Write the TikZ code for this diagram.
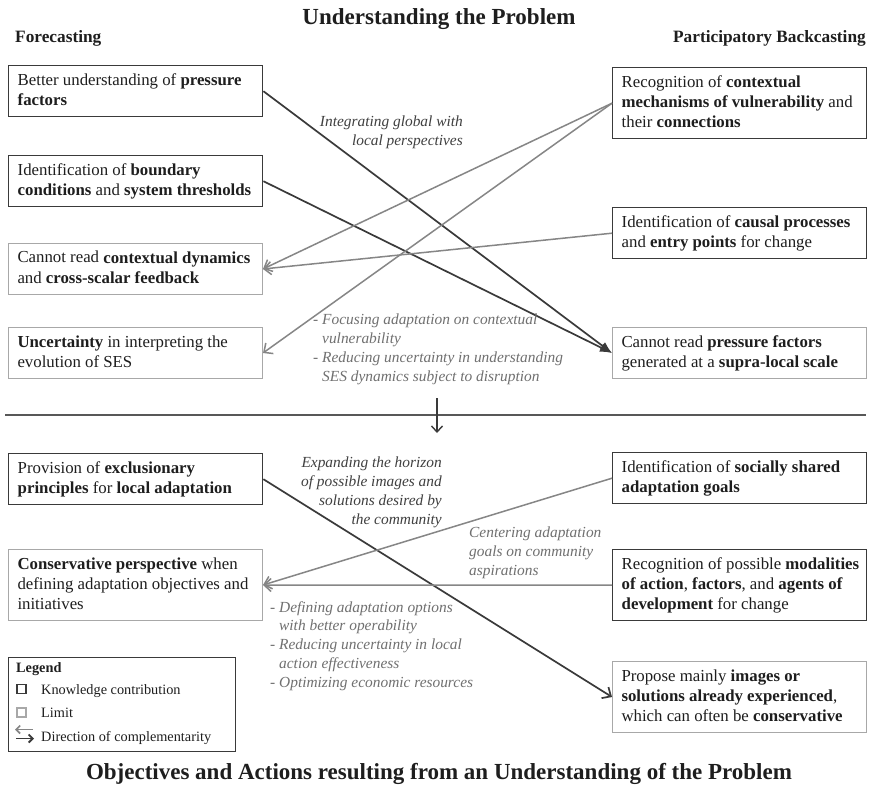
\documentclass[tikz,border=0pt]{standalone}
\usepackage{fontspec}
\setmainfont{Liberation Serif}
\usetikzlibrary{arrows.meta}
\definecolor{darkline}{HTML}{3A3A3A}
\definecolor{lightline}{HTML}{A8A8A8}
\definecolor{txt}{HTML}{1E1E1E}
\definecolor{lbldark}{HTML}{404040}
\definecolor{lbllight}{HTML}{707070}
\definecolor{grayarrow}{HTML}{868686}
\newcommand{\bx}[1]{\makebox[236pt][l]{\begin{tabular}{@{}l@{}}#1\end{tabular}}}
\newcommand{\bodyfont}{\fontsize{16.8}{20}\selectfont}
\newcommand{\labfont}{\fontsize{15.4}{18.8}\selectfont\itshape}
\newcommand{\legfont}{\fontsize{14.3}{17}\selectfont}
\newcommand{\titlefont}{\fontsize{23}{27}\selectfont\bfseries}
\newcommand{\headfont}{\fontsize{17.3}{20}\selectfont\bfseries}
\begin{document}
\begin{tikzpicture}[x=1pt,y=-1pt,
  kbox/.style={draw=darkline, line width=1.4pt, rectangle, anchor=north west, inner sep=0pt,
    minimum width=254pt, text=txt, font=\bodyfont},
  lbox/.style={kbox, draw=lightline, line width=1pt},
  twoline/.style={minimum height=51pt},
  threeline/.style={minimum height=71pt},
  karrow/.style={draw=darkline, line width=1.7pt, -{Latex[length=12pt,width=9pt]}},
  karrowv/.style={draw=darkline, line width=1.7pt, -{Straight Barb[length=7pt,width=13pt]}},
  garrow/.style={draw=grayarrow, line width=1.5pt, -{Straight Barb[length=7pt,width=13pt]}},
  lab/.style={font=\labfont, inner sep=0pt},
  labdark/.style={lab, text=lbldark},
  lablight/.style={lab, text=lbllight},
  sep/.style={draw=darkline!85, line width=1.4pt},
  legtext/.style={anchor=base west, font=\legfont, text=txt, inner sep=0pt},
  legsq/.style={minimum size=9pt, inner sep=0pt, line width=1.1pt},
]
\useasboundingbox[fill=white] (0,0) rectangle (869,786);

% headings
\node[anchor=base, font=\titlefont, text=txt, inner sep=0pt] (title) at (439,25) {Understanding the Problem};
\node[anchor=base west, font=\headfont, text=txt, inner sep=0pt] (fc) at (15,43) {Forecasting};
\node[anchor=base east, font=\headfont, text=txt, inner sep=0pt] (bc) at (866,43) {Participatory Backcasting};
\node[anchor=base, font=\titlefont, text=txt, inner sep=0pt] (title2) at (439,779) {Objectives and Actions resulting from an Understanding of the Problem};

% upper left boxes
\node[kbox, twoline] (L1) at (8,65) {\bx{Better understanding of \textbf{pressure}\\\textbf{factors}}};
\node[kbox, twoline] (L2) at (8,155) {\bx{Identification of \textbf{boundary}\\\textbf{conditions} and \textbf{system thresholds}}};
\node[lbox, twoline] (L3) at (8,243) {\bx{Cannot read \textbf{contextual dynamics}\\and \textbf{cross-scalar feedback}}};
\node[lbox, twoline] (L4) at (8,327) {\bx{\textbf{Uncertainty} in interpreting the\\evolution of SES}};

% upper right boxes
\node[kbox, threeline] (R1) at (612,67) {\bx{Recognition of \textbf{contextual}\\\textbf{mechanisms of vulnerability} and\\their \textbf{connections}}};
\node[kbox, twoline] (R2) at (612,207) {\bx{Identification of \textbf{causal processes}\\and \textbf{entry points} for change}};
\node[lbox, twoline] (R3) at (612,327) {\bx{Cannot read \textbf{pressure factors}\\generated at a \textbf{supra-local scale}}};

% upper connectors
\draw[karrow] (L1.east) -- (R3.west);
\draw[karrow] (L2.east) -- (R3.west);
\draw[garrow] (R1.west) -- (L3.east);
\draw[garrow] (R1.west) -- (L4.east);
\draw[garrow] (R2.west) -- (L3.east);

\node[labdark, align=right, anchor=north east] (labA) at (463,116) {Integrating global with\\local perspectives};
\node[lablight, align=left, anchor=north west] (labB) at (313,314) {- Focusing adaptation on contextual\\\phantom{- }vulnerability\\- Reducing uncertainty in understanding\\\phantom{- }SES dynamics subject to disruption};

% separator and down arrow
\coordinate (sepL) at (5,415);
\coordinate (sepR) at (866,415);
\draw[sep] (sepL) -- (sepR);
\coordinate (dtop) at (437,398);
\coordinate (dbot) at (437,433);
\draw[draw=darkline, line width=1.4pt, -{Straight Barb[length=6pt,width=11pt]}] (dtop) -- (dbot);

% lower boxes
\node[kbox, twoline] (L5) at (8,453) {\bx{Provision of \textbf{exclusionary}\\\textbf{principles} for \textbf{local adaptation}}};
\node[lbox, threeline] (L6) at (8,549) {\bx{\textbf{Conservative perspective} when\\defining adaptation objectives and\\initiatives}};
\node[kbox, twoline] (R4) at (612,452) {\bx{Identification of \textbf{socially shared}\\\textbf{adaptation goals}}};
\node[kbox, threeline] (R5) at (612,549) {\bx{Recognition of possible \textbf{modalities}\\\textbf{of action}, \textbf{factors}, and \textbf{agents of}\\\textbf{development} for change}};
\node[lbox, threeline] (R6) at (612,661) {\bx{Propose mainly \textbf{images or}\\\textbf{solutions already experienced},\\which can often be \textbf{conservative}}};

% lower connectors
\draw[karrowv] (L5.east) -- (R6.west);
\draw[garrow] (R4.west) -- (L6.east);
\draw[garrow] (R5.west) -- (L6.east);

\node[labdark, align=right, anchor=north east] (labC) at (442,457) {Expanding the horizon\\of possible images and\\solutions desired by\\the community};
\node[lablight, align=left, anchor=north west] (labD) at (469,527) {Centering adaptation\\goals on community\\aspirations};
\node[lablight, align=left, anchor=north west] (labE) at (270,601) {- Defining adaptation options\\\phantom{- }with better operability\\- Reducing uncertainty in local\\\phantom{- }action effectiveness\\- Optimizing economic resources};

% legend
\node[draw=darkline, line width=1.4pt, anchor=north west, minimum width=227pt, minimum height=94pt, inner sep=0pt] (legend) at (8,657) {};
\node[legtext, font=\legfont\bfseries] (legT) at (16,672) {Legend};
\node[legsq, draw=darkline] (sqK) at (21.5,689) {};
\node[legtext] (legK) at (41,694) {Knowledge contribution};
\node[legsq, draw=lightline] (sqL) at (21.5,712.5) {};
\node[legtext] (legL) at (41,717) {Limit};
\coordinate (i1) at (33,729.5);
\coordinate (i2) at (15,729.5);
\coordinate (i3) at (16,738.5);
\coordinate (i4) at (34,738.5);
\draw[draw=grayarrow, line width=1.6pt, -{Straight Barb[length=4pt,width=8pt]}] (i1) -- (i2);
\draw[draw=darkline, line width=1.8pt, -{Straight Barb[length=4pt,width=8pt]}] (i3) -- (i4);
\node[legtext] (legD) at (41,741) {Direction of complementarity};
\end{tikzpicture}
\end{document}
